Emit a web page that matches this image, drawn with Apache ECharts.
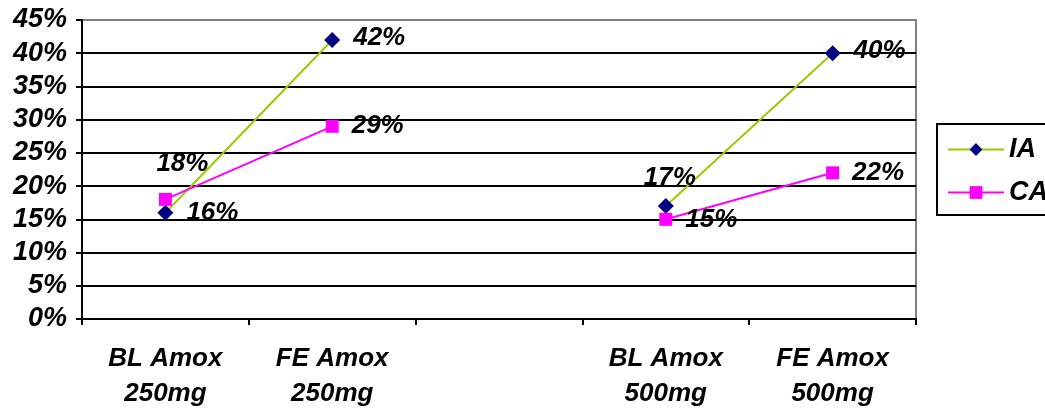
<!DOCTYPE html>
<html><head><meta charset="utf-8">
<script src="https://cdn.jsdelivr.net/npm/echarts@6/dist/echarts.min.js"></script>
<style>html,body{margin:0;padding:0;background:#fff}#c{width:1045px;height:411px}</style>
</head><body><div id="c"></div>
<script>
const categories = ["BL Amox\n250mg", "FE Amox\n250mg", "", "BL Amox\n500mg", "FE Amox\n500mg"];
const seriesNames = ["IA", "CA"];
const iaValues = [16, 42, null, 17, 40];
const caValues = [18, 29, null, 15, 22];
const yTicks = [0, 5, 10, 15, 20, 25, 30, 35, 40, 45];

const font = {fontFamily: "Liberation Sans, Arial, sans-serif", fontWeight: "bold", fontStyle: "italic", color: "#000"};
const lbl = (pos, extra) => Object.assign({show: true, position: pos, formatter: "{c}%", fontSize: 26, distance: 13}, font, extra || {});

const iaData = iaValues.map((v, i) => {
  if (v === null) return null;
  if (i === 3) return {value: v, label: lbl("top", {distance: 7, offset: [4, 0]})};
  return {value: v, label: lbl("right", {offset: [0, i === 0 ? 0 : -2]})};
});
const caData = caValues.map((v, i) => {
  if (v === null) return null;
  if (i === 0) return {value: v, label: lbl("top", {distance: 16, offset: [17, 0]})};
  return {value: v, label: lbl("right")};
});

const splitColors = yTicks.map((t, i) => i === yTicks.length - 1 ? "#808080" : "#000");

const chart = echarts.init(document.getElementById("c"), null, {renderer: "canvas"});
chart.setOption({
  animation: false,
  backgroundColor: "#fff",
  grid: {left: 82, right: 129, top: 20, bottom: 91, show: true, borderColor: "#808080", borderWidth: 2},
  legend: {
    orient: "vertical", left: 937, top: 124, itemGap: 16,
    borderColor: "#000", borderWidth: 2, padding: [12, 40, 9, 10],
    itemWidth: 56, itemHeight: 16,
    textStyle: Object.assign({fontSize: 27}, font),
    data: seriesNames
  },
  xAxis: {
    type: "category", data: categories, boundaryGap: true,
    axisLine: {lineStyle: {color: "#000", width: 2}},
    axisTick: {show: true, length: 6, interval: 0, lineStyle: {color: "#000", width: 2}},
    axisLabel: Object.assign({fontSize: 26, lineHeight: 35, margin: 22, interval: 0}, font)
  },
  yAxis: {
    type: "value", min: 0, max: 45, interval: 5,
    axisLine: {show: true, lineStyle: {color: "#000", width: 2}},
    axisTick: {show: true, length: 6, lineStyle: {color: "#000", width: 2}},
    axisLabel: Object.assign({fontSize: 27, margin: 15, formatter: "{value}%"}, font),
    splitLine: {show: true, lineStyle: {color: splitColors, width: 2}}
  },
  series: [
    {name: seriesNames[0], type: "line", data: iaData, connectNulls: false,
     symbol: "diamond", symbolSize: 16, lineStyle: {color: "#99CC00", width: 2},
     itemStyle: {color: "#000080"}, color: "#99CC00"},
    {name: seriesNames[1], type: "line", data: caData, connectNulls: false,
     symbol: "rect", symbolSize: 13, lineStyle: {color: "#FF00FF", width: 2},
     itemStyle: {color: "#FF00FF"}, color: "#FF00FF"}
  ]
});
</script></body></html>
